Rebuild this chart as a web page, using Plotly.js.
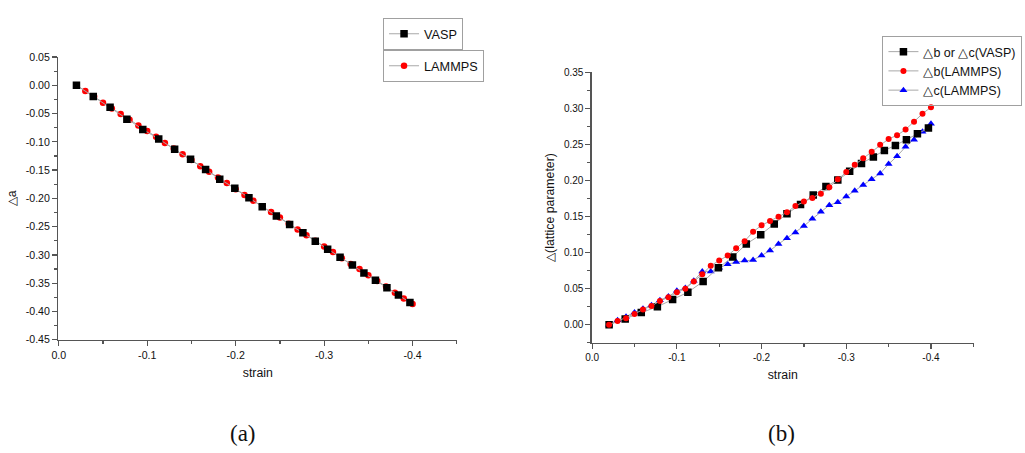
<!DOCTYPE html>
<html>
<head>
<meta charset="utf-8">
<script src="https://cdn.plot.ly/plotly-3.0.1.min.js"></script>
<style>
html,body{margin:0;padding:0;background:#ffffff;}
#chart{width:1025px;height:453px;}
</style>
</head>
<body>
<div id="chart"></div>
<script>
// ---- data ----
// strain of the VASP points (same in both panels)
const strainVASP = [-0.020, -0.039, -0.058, -0.077, -0.095, -0.113, -0.131, -0.149, -0.166, -0.182,
                    -0.199, -0.215, -0.230, -0.246, -0.261, -0.276, -0.290, -0.304, -0.318, -0.332,
                    -0.345, -0.358, -0.371, -0.384, -0.397];
// strain of the LAMMPS points
const strainLAMMPS = [-0.02, -0.03, -0.04, -0.05, -0.06, -0.07, -0.08, -0.09, -0.10, -0.11,
                      -0.12, -0.13, -0.14, -0.15, -0.16, -0.17, -0.18, -0.19, -0.20, -0.21,
                      -0.22, -0.23, -0.24, -0.25, -0.26, -0.27, -0.28, -0.29, -0.30, -0.31,
                      -0.32, -0.33, -0.34, -0.35, -0.36, -0.37, -0.38, -0.39, -0.40];
// panel (a): delta a
const daVASP = [0.000, -0.020, -0.039, -0.060, -0.078, -0.095, -0.113, -0.131, -0.149, -0.166,
                -0.182, -0.199, -0.215, -0.231, -0.246, -0.261, -0.276, -0.290, -0.304, -0.318,
                -0.332, -0.345, -0.358, -0.371, -0.384];
const daLAMMPS = [0.000, -0.010, -0.020, -0.031, -0.041, -0.051, -0.061, -0.071, -0.081, -0.091,
                  -0.102, -0.112, -0.122, -0.132, -0.143, -0.153, -0.163, -0.173, -0.184, -0.194,
                  -0.204, -0.214, -0.224, -0.234, -0.245, -0.255, -0.265, -0.275, -0.285, -0.295,
                  -0.306, -0.316, -0.325, -0.336, -0.346, -0.356, -0.367, -0.377, -0.387];
// panel (b): delta lattice parameter
const dbcVASP = [0.000, 0.008, 0.017, 0.025, 0.035, 0.045, 0.060, 0.079, 0.094, 0.112,
                 0.125, 0.140, 0.154, 0.167, 0.180, 0.192, 0.201, 0.213, 0.224, 0.233,
                 0.242, 0.249, 0.257, 0.265, 0.273];
const dbLAMMPS = [0.000, 0.005, 0.009, 0.015, 0.021, 0.026, 0.033, 0.038, 0.045, 0.050,
                  0.060, 0.070, 0.082, 0.089, 0.096, 0.106, 0.116, 0.129, 0.138, 0.144,
                  0.150, 0.156, 0.165, 0.171, 0.176, 0.182, 0.191, 0.202, 0.212, 0.222,
                  0.231, 0.240, 0.250, 0.258, 0.263, 0.271, 0.282, 0.293, 0.302];
const dcLAMMPS = [0.000, 0.006, 0.011, 0.017, 0.022, 0.027, 0.034, 0.039, 0.047, 0.051,
                  0.061, 0.074, 0.074, 0.079, 0.084, 0.087, 0.089, 0.090, 0.096, 0.103,
                  0.112, 0.120, 0.128, 0.137, 0.147, 0.157, 0.166, 0.170, 0.178, 0.186,
                  0.194, 0.202, 0.210, 0.223, 0.234, 0.247, 0.257, 0.268, 0.279];
// tick labels
const xTickVals = [0, -0.1, -0.2, -0.3, -0.4];
const xTickText = ['0.0', '-0.1', '-0.2', '-0.3', '-0.4'];
const yTickValsA = [0.05, 0, -0.05, -0.10, -0.15, -0.20, -0.25, -0.30, -0.35, -0.40, -0.45];
const yTickTextA = ['0.05', '0.00', '-0.05', '-0.10', '-0.15', '-0.20', '-0.25', '-0.30', '-0.35', '-0.40', '-0.45'];
const yTickValsB = [0, 0.05, 0.10, 0.15, 0.20, 0.25, 0.30, 0.35];
const yTickTextB = ['0.00', '0.05', '0.10', '0.15', '0.20', '0.25', '0.30', '0.35'];
// series names
const nameVASP = 'VASP';
const nameLAMMPS = 'LAMMPS';
const nameBCVASP = '△b or △c(VASP)';
const nameBLAMMPS = '△b(LAMMPS)';
const nameCLAMMPS = '△c(LAMMPS)';

// ---- styles ----
const LINE = {color: '#a8a8a8', width: 1};
const AXC = '#555555';

const traces = [
  {x: strainLAMMPS, y: daLAMMPS, xaxis: 'x', yaxis: 'y', mode: 'lines+markers', name: nameLAMMPS,
   line: LINE, marker: {symbol: 'circle', size: 6.5, color: '#ff0000'}, legend: 'legend2'},
  {x: strainVASP, y: daVASP, xaxis: 'x', yaxis: 'y', mode: 'lines+markers', name: nameVASP,
   line: LINE, marker: {symbol: 'square', size: 7.5, color: '#000000'}, legend: 'legend'},
  {x: strainLAMMPS, y: dcLAMMPS, xaxis: 'x2', yaxis: 'y2', mode: 'lines+markers', name: nameCLAMMPS,
   line: LINE, marker: {symbol: 'triangle-up', size: 7, color: '#0000ff'}, legend: 'legend3', legendrank: 3},
  {x: strainVASP, y: dbcVASP, xaxis: 'x2', yaxis: 'y2', mode: 'lines+markers', name: nameBCVASP,
   line: LINE, marker: {symbol: 'square', size: 7.5, color: '#000000'}, legend: 'legend3', legendrank: 1},
  {x: strainLAMMPS, y: dbLAMMPS, xaxis: 'x2', yaxis: 'y2', mode: 'lines+markers', name: nameBLAMMPS,
   line: LINE, marker: {symbol: 'circle', size: 6, color: '#ff0000'}, legend: 'legend3', legendrank: 2}
];

function xAxis(domain, anchor, fs) {
  return {
    domain: domain, anchor: anchor, range: [0.0005, -0.4505],
    showline: true, linecolor: AXC, linewidth: 1.3, mirror: false,
    showgrid: false, zeroline: false,
    ticks: 'outside', ticklen: 5, tickwidth: 1.2, tickcolor: AXC,
    tickmode: 'array', tickvals: xTickVals, ticktext: xTickText,
    tickfont: {size: fs, color: '#111111'},
    minor: {tickmode: 'linear', tick0: 0, dtick: 0.05, ticks: 'outside', ticklen: 3, tickwidth: 1.2, tickcolor: AXC, showgrid: false},
    title: {text: 'strain', font: {size: 12.3, color: '#111111'}, standoff: 8}
  };
}
function yAxis(domain, anchor, range, vals, text, title, fs) {
  return {
    domain: domain, anchor: anchor, range: range,
    showline: true, linecolor: AXC, linewidth: 1.3, mirror: false,
    showgrid: false, zeroline: false,
    ticks: 'outside', ticklen: 5, tickwidth: 1.2, tickcolor: AXC,
    tickmode: 'array', tickvals: vals, ticktext: text,
    tickfont: {size: fs, color: '#111111'},
    minor: {tickmode: 'linear', tick0: 0, dtick: 0.025, ticks: 'outside', ticklen: 3, tickwidth: 1.2, tickcolor: AXC, showgrid: false},
    title: {text: title, font: {size: 12.3, color: '#111111'}, standoff: 6}
  };
}

const legendBase = {
  bgcolor: 'rgba(255,255,255,0)', bordercolor: '#a0a0a0', borderwidth: 1,
  font: {size: 12.7, color: '#111111'}, xref: 'paper', yref: 'paper'
};

const layout = {
  width: 1025, height: 453,
  margin: {l: 0, r: 0, t: 0, b: 0},
  paper_bgcolor: '#ffffff', plot_bgcolor: 'rgba(0,0,0,0)',
  font: {family: 'Liberation Sans, Arial, sans-serif', color: '#111111'},
  showlegend: true,
  xaxis: xAxis([0.0569, 0.4461], 'y', 10.6),
  yaxis: yAxis([0.2494, 0.8748], 'x', [-0.4505, 0.0505], yTickValsA, yTickTextA, '△a', 10.6),
  xaxis2: xAxis([0.5773, 0.9500], 'y2', 10),
  yaxis2: yAxis([0.2435, 0.8404], 'x2', [-0.025, 0.3505], yTickValsB, yTickTextB, '△(lattice parameter)', 10),
  legend: Object.assign({}, legendBase, {x: 0.3737, xanchor: 'left', y: 1 - 18 / 453, yanchor: 'top'}),
  legend2: Object.assign({}, legendBase, {x: 0.3737, xanchor: 'left', y: 1 - 50 / 453, yanchor: 'top'}),
  legend3: Object.assign({}, legendBase, {x: 0.9975, xanchor: 'right', y: 1 - 36 / 453, yanchor: 'top', font: {size: 12.5, color: '#111111'}}),
  annotations: [
    {text: '(a)', xref: 'paper', yref: 'paper', x: 243 / 1025, y: 1 - 433 / 453, xanchor: 'center', yanchor: 'middle',
     showarrow: false, font: {family: 'Liberation Serif, DejaVu Serif, serif', size: 23, color: '#111111'}},
    {text: '(b)', xref: 'paper', yref: 'paper', x: 781 / 1025, y: 1 - 433 / 453, xanchor: 'center', yanchor: 'middle',
     showarrow: false, font: {family: 'Liberation Serif, DejaVu Serif, serif', size: 23, color: '#111111'}}
  ]
};

Plotly.newPlot('chart', traces, layout, {staticPlot: true, displayModeBar: false});
</script>
</body>
</html>
